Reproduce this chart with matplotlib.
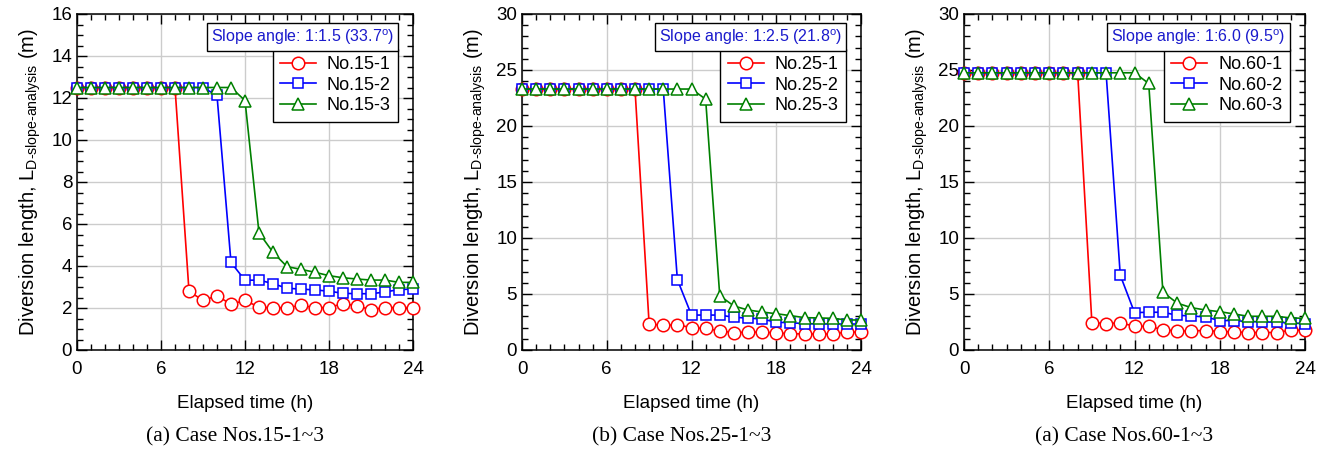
import numpy as np
import matplotlib
matplotlib.use('Agg')
import matplotlib.pyplot as plt
from matplotlib.ticker import MultipleLocator

plt.rcParams['font.family'] = ['Liberation Sans', 'DejaVu Sans']
plt.rcParams['mathtext.fontset'] = 'custom'
plt.rcParams['mathtext.rm'] = 'Liberation Sans'
plt.rcParams['mathtext.it'] = 'Liberation Sans:italic'

hours = np.arange(0, 25)

# case 15 (slope 1:1.5)
c15_1 = [12.5]*8 + [2.8, 2.36, 2.58, 2.18, 2.36, 2.04, 2.01, 2.02, 2.12, 2.02, 2.02,
                    2.21, 2.1, 1.92, 2.02, 2.02, 2.02]
c15_2 = [12.5]*10 + [12.12, 4.17, 3.32, 3.33, 3.16, 2.94, 2.9, 2.86, 2.8, 2.7, 2.68,
                     2.68, 2.76, 2.88, 2.9]
c15_3 = [12.5]*12 + [11.88, 5.58, 4.65, 3.97, 3.84, 3.7, 3.54, 3.44, 3.38, 3.33, 3.33,
                     3.22, 3.22]

# case 25 (slope 1:2.5)
c25_1 = [23.3]*9 + [2.32, 2.2, 2.26, 1.99, 1.93, 1.7, 1.55, 1.6, 1.6, 1.52, 1.46,
                    1.43, 1.43, 1.43, 1.6, 1.6]
c25_2 = [23.3]*11 + [6.28, 3.12, 3.12, 3.12, 2.92, 2.85, 2.77, 2.47, 2.44, 2.35,
                     2.32, 2.32, 2.32, 2.32]
c25_3 = [23.3]*13 + [22.4, 4.85, 3.93, 3.57, 3.39, 3.24, 3.07, 2.89, 2.86, 2.83,
                     2.68, 2.68]

# case 60 (slope 1:6.0)
c60_1 = [24.75]*9 + [2.45, 2.36, 2.42, 2.13, 2.1, 1.83, 1.68, 1.71, 1.74, 1.65, 1.62,
                     1.56, 1.56, 1.56, 1.77, 1.77]
c60_2 = [24.75]*11 + [6.67, 3.34, 3.37, 3.37, 3.1, 3.04, 2.95, 2.63, 2.63, 2.54,
                      2.51, 2.48, 2.42, 2.36]
c60_3 = [24.75]*13 + [23.8, 5.17, 4.19, 3.78, 3.57, 3.42, 3.22, 3.01, 3.01, 3.01,
                      2.86, 2.83]

panels = [
    ([c15_1, c15_2, c15_3], ['No.15-1', 'No.15-2', 'No.15-3'],
     r'Slope angle: 1:1.5 (33.7$^{\mathrm{o}}$)', 16, 2, 0.5, '(a) Case Nos.15-1~3'),
    ([c25_1, c25_2, c25_3], ['No.25-1', 'No.25-2', 'No.25-3'],
     r'Slope angle: 1:2.5 (21.8$^{\mathrm{o}}$)', 30, 5, 1, '(b) Case Nos.25-1~3'),
    ([c60_1, c60_2, c60_3], ['No.60-1', 'No.60-2', 'No.60-3'],
     r'Slope angle: 1:6.0 (9.5$^{\mathrm{o}}$)', 30, 5, 1, '(a) Case Nos.60-1~3'),
]

colors = ['red', 'blue', 'green']
markers = ['o', 's', '^']
msizes = [9, 7.5, 8.5]

fig = plt.figure(figsize=(13.27, 4.53), dpi=100)
W, H = 1327, 453
lefts = [77, 522, 964]
rights = [413, 861, 1305]
top, bottom = 14, 350

for i, (series, names, slope, ymax, ymaj, ymin, cap) in enumerate(panels):
    ax = fig.add_axes([lefts[i]/W, 1 - bottom/H, (rights[i]-lefts[i])/W, (bottom-top)/H])
    lines = []
    for s, c, m, ms, n in zip(series, colors, markers, msizes, names):
        ln, = ax.plot(hours, s, color=c, marker=m, markersize=ms, markerfacecolor='white',
                      markeredgecolor=c, markeredgewidth=1.1, linewidth=1.2, label=n,
                      clip_on=False, zorder=3)
        lines.append(ln)
    ax.set_xlim(0, 24)
    ax.set_ylim(0, ymax)
    ax.xaxis.set_major_locator(MultipleLocator(6))
    ax.xaxis.set_minor_locator(MultipleLocator(1))
    ax.yaxis.set_major_locator(MultipleLocator(ymaj))
    ax.yaxis.set_minor_locator(MultipleLocator(ymin))
    ax.tick_params(which='both', direction='in', top=True, right=True, labelsize=13.5)
    ax.tick_params(which='major', length=7, width=1)
    ax.tick_params(which='minor', length=4, width=1)
    ax.tick_params(axis='x', pad=8)
    ax.grid(True, which='major', color='#cccccc', linewidth=1, zorder=0)
    for sp in ax.spines.values():
        sp.set_linewidth(1.1)
    ax.set_xlabel('Elapsed time (h)', fontsize=13.5, labelpad=12)
    ax.set_ylabel(r'Diversion length, L$_{\mathrm{D\text{-}slope\text{-}analysis}}$ (m)',
                  fontsize=14.5, labelpad=6)
    leg = ax.legend(handles=lines, loc='upper right', bbox_to_anchor=(0.955, 0.896),
                    borderaxespad=0, fontsize=13, fancybox=False, framealpha=1,
                    edgecolor='black', handlelength=2.0, handletextpad=0.6,
                    borderpad=0.4, labelspacing=0.2)
    leg.get_frame().set_linewidth(1)
    leg.set_zorder(5)
    ax.text(0.943, 0.961, slope, transform=ax.transAxes, ha='right', va='top',
            fontsize=11.5, color='#1a1acc', zorder=6,
            bbox=dict(boxstyle='square,pad=0.25', facecolor='white', edgecolor='black',
                      linewidth=1))
    cx = (lefts[i] + rights[i]) / 2 / W
    fig.text(cx - 10/W, 1 - 437/H, cap, ha='center', va='center', fontsize=15.5,
             family=['Liberation Serif', 'DejaVu Serif'])

fig.savefig('out.png', dpi=100)
